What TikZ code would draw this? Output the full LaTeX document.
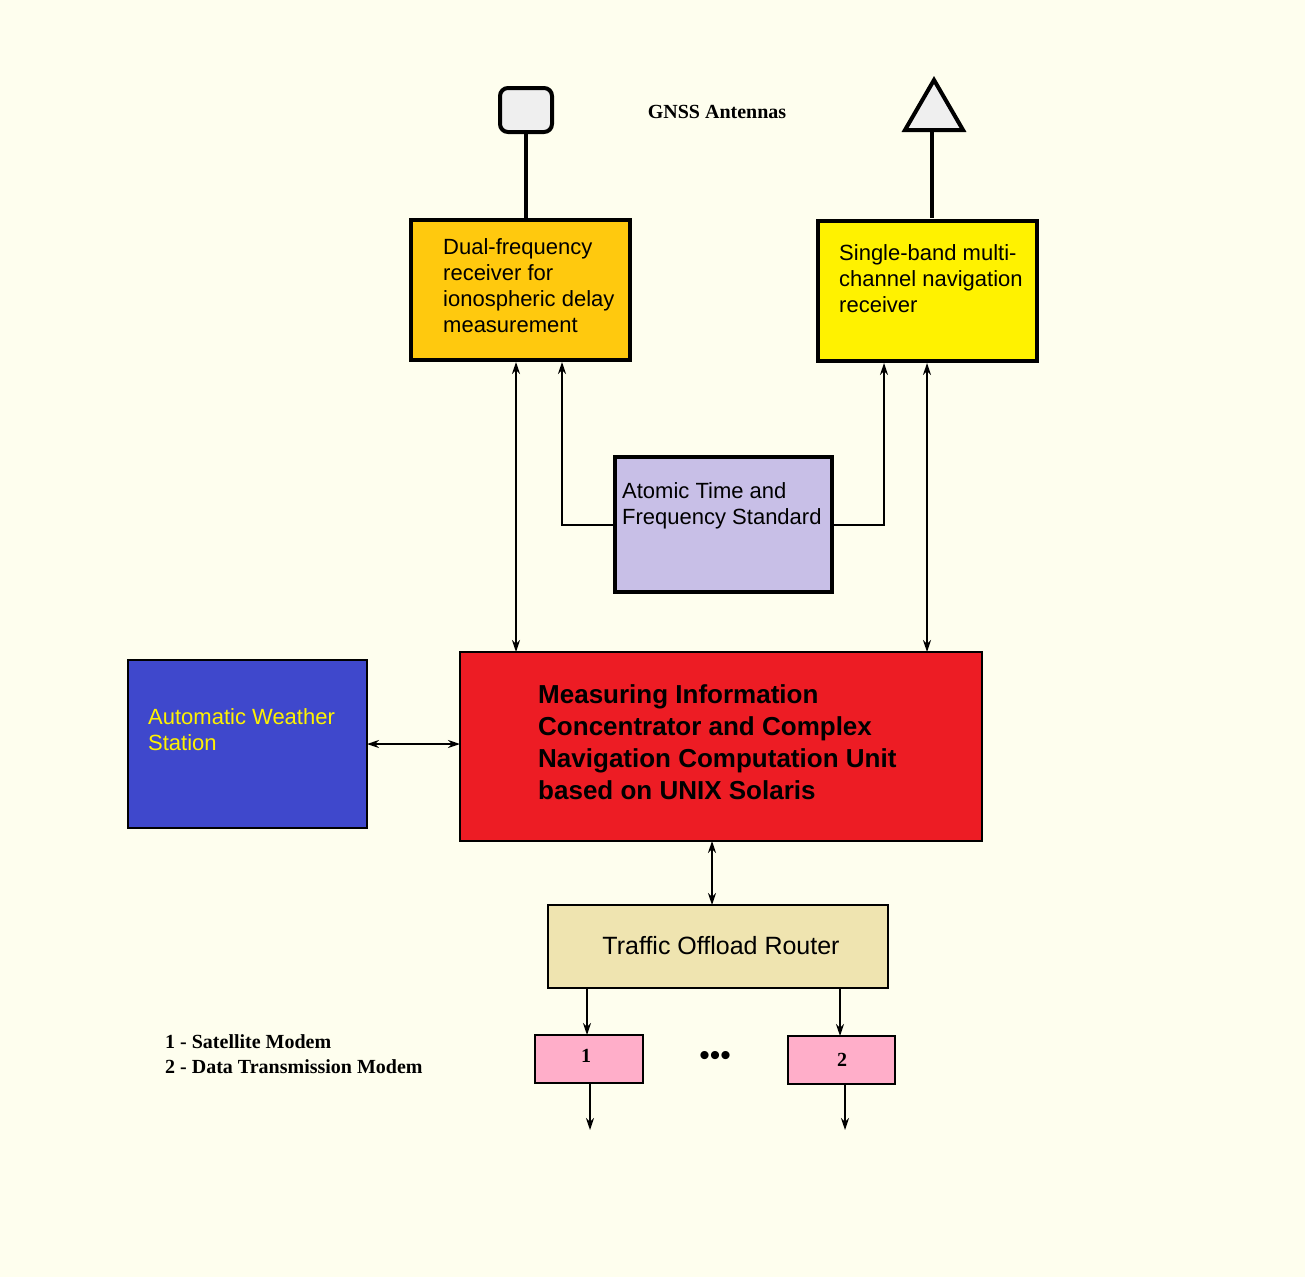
\documentclass[tikz,border=0pt]{standalone}
\usepackage{fontspec}
\setmainfont{Liberation Sans}
\newfontfamily\serifb{Liberation Serif}
\usetikzlibrary{arrows.meta,positioning}
\definecolor{bg}{HTML}{FEFEEE}
\definecolor{orng}{HTML}{FFC90E}
\definecolor{yel}{HTML}{FFF200}
\definecolor{lav}{HTML}{C8BFE7}
\definecolor{blu}{HTML}{3F48CC}
\definecolor{rd}{HTML}{ED1C24}
\definecolor{tan}{HTML}{EFE4B0}
\definecolor{pnk}{HTML}{FFAEC9}
\definecolor{ant}{HTML}{EFEFEF}
\begin{document}
\begin{tikzpicture}[x=1pt,y=-1pt,
  box/.style={draw=black,line width=#1},
  txt/.style={font=\fontsize{22}{26}\selectfont,align=left,anchor=north west,inner sep=0},
  arr/.style={line width=2pt,-{Stealth[length=12pt,width=8pt]}},
  darr/.style={line width=2pt,{Stealth[length=12pt,width=8pt]}-{Stealth[length=12pt,width=8pt]}},
  leg/.style={font=\serifb\bfseries\fontsize{20}{25}\selectfont,anchor=west,inner sep=0}]
\fill[bg] (0,0) rectangle (1305,1277);
% boxes
\draw[box=4pt,fill=orng] (411,220) rectangle (630,360);
\draw[box=4pt,fill=yel] (818,221) rectangle (1037,361);
\draw[box=4pt,fill=lav] (615,457) rectangle (832,592);
\draw[box=2pt,fill=blu] (128,660) rectangle (367,828);
\draw[box=2pt,fill=rd] (460,652) rectangle (982,841);
\draw[box=2pt,fill=tan] (548,905) rectangle (888,988);
\draw[box=2pt,fill=pnk] (535,1035) rectangle (643,1083);
\draw[box=2pt,fill=pnk] (788,1036) rectangle (895,1084);
% texts
\node[txt] (dual) at (443,238) {Dual-frequency\\receiver for\\ionospheric delay\\measurement};
\node[txt] (single) at (839,244) {Single-band multi-\\channel navigation\\receiver};
\node[txt] (atomic) at (622,482) {Atomic Time and\\Frequency Standard};
\node[txt,text=yellow] (aws) at (148,708) {Automatic Weather\\Station};
\node[txt,font=\bfseries\fontsize{26}{32}\selectfont] (main) at (538,684) {Measuring Information\\Concentrator and Complex\\Navigation Computation Unit\\based on UNIX Solaris};
\node[font=\fontsize{25}{30}\selectfont,inner sep=0] (tor) at (721,946) {Traffic Offload Router};
\node[font=\serifb\bfseries\fontsize{20}{24}\selectfont] (m1) at (586,1056) {1};
\node[font=\serifb\bfseries\fontsize{20}{24}\selectfont] (m2) at (842,1060) {2};
\node[font=\fontsize{30}{30}\selectfont] (dots) at (715,1058) {•••};
\node[font=\serifb\bfseries\fontsize{20}{24}\selectfont] (gnss) at (717,112) {GNSS Antennas};
\node[leg] (l1) at (165,1042) {1 - Satellite Modem};
\node[leg] (l2) at (165,1067) {2 - Data Transmission Modem};
% antennas
\draw[line width=4pt,fill=ant,rounded corners=8pt] (500,132) -- (500,88) -- (552,88) -- (552,132) -- cycle;
\draw[line width=4pt] (526,132) -- (526,220);
\draw[line width=4pt,fill=ant] (934,80) -- (963,130) -- (905,130) -- cycle;
\draw[line width=4pt] (932,130) -- (932,218);
% connectors
\coordinate (a1) at (516,362); \coordinate (a2) at (516,652);
\draw[darr] (a1) -- (a2);
\coordinate (b1) at (927,363); \coordinate (b2) at (927,652);
\draw[darr] (b1) -- (b2);
\coordinate (c1) at (615,525); \coordinate (c2) at (562,362);
\draw[arr] (c1) -| (c2);
\coordinate (d1) at (832,525); \coordinate (d2) at (884,363);
\draw[arr] (d1) -| (d2);
\coordinate (e1) at (367,744); \coordinate (e2) at (460,744);
\draw[darr] (e1) -- (e2);
\coordinate (f1) at (712,841); \coordinate (f2) at (712,905);
\draw[darr] (f1) -- (f2);
\coordinate (g1) at (587,988); \coordinate (g2) at (587,1035);
\draw[arr] (g1) -- (g2);
\coordinate (h1) at (840,988); \coordinate (h2) at (840,1036);
\draw[arr] (h1) -- (h2);
\coordinate (i1) at (590,1083); \coordinate (i2) at (590,1130);
\draw[arr] (i1) -- (i2);
\coordinate (j1) at (845,1084); \coordinate (j2) at (845,1130);
\draw[arr] (j1) -- (j2);
\end{tikzpicture}
\end{document}
